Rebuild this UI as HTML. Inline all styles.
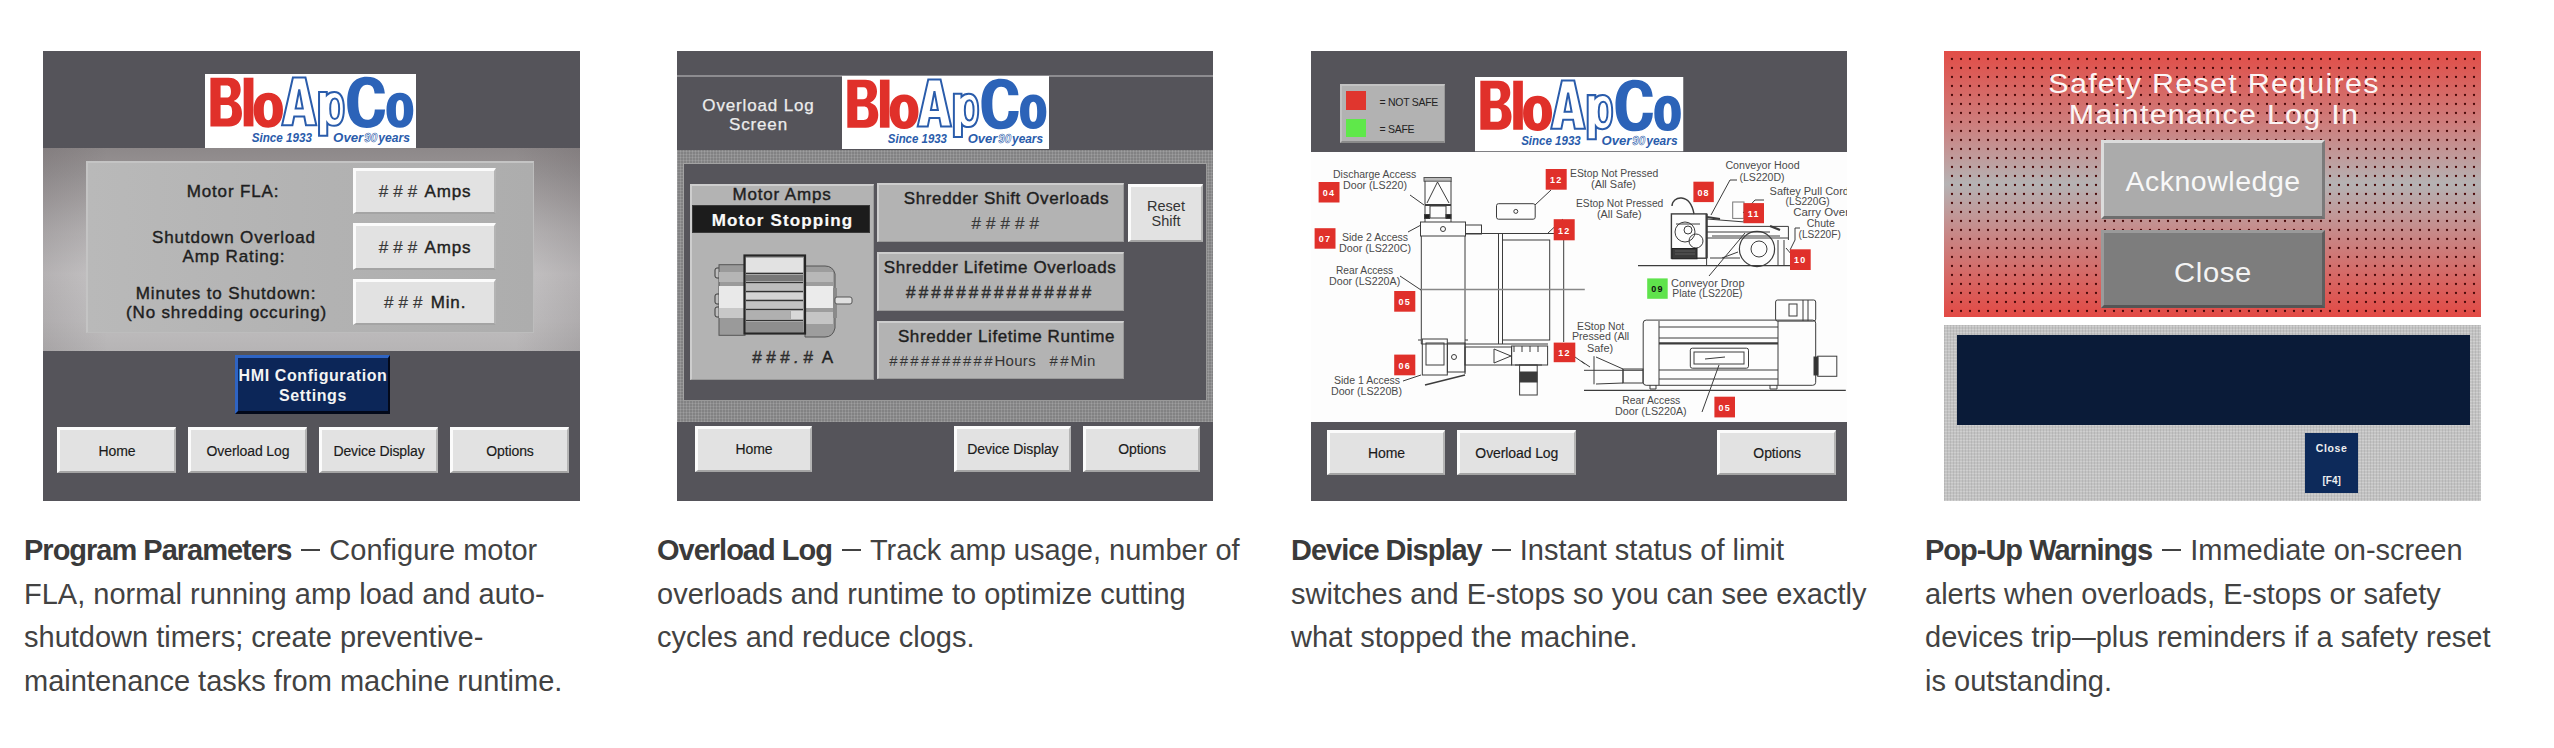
<!DOCTYPE html>
<html><head><meta charset="utf-8">
<style>
html,body{margin:0;padding:0;background:#fff;width:2554px;height:748px;overflow:hidden;position:relative}
*{box-sizing:border-box}
.abs{position:absolute}
.panel{position:absolute;top:51px;width:537px;height:450px;background:#55545a;overflow:hidden;font-family:"Liberation Sans",sans-serif}
.cap{position:absolute;top:529px;font-family:"Liberation Sans",sans-serif;font-size:29px;line-height:43.5px;color:#424242;white-space:nowrap}
.cap b{font-weight:bold;color:#3a3a3a;letter-spacing:-1px}
.dash{display:inline-block;width:20px;height:2px;background:#424242;vertical-align:middle;margin:0 9px 0 10px;width:19px;position:relative;top:-2px}
.logo{position:absolute;background:#fff;overflow:hidden}
.btn{position:absolute;background:#e2e2e2;border-top:3px solid #fbfbfb;border-left:3px solid #fbfbfb;border-right:2px solid #b4b4b4;border-bottom:2px solid #a4a4a4;white-space:nowrap;font-family:"Liberation Sans",sans-serif;color:#222;display:flex;align-items:center;justify-content:center;text-align:center}
.v{font-size:17px;line-height:19px;letter-spacing:0.85px;-webkit-text-stroke:0.4px #1e1e1e}
.hh{letter-spacing:5px;margin-right:-2px;font-style:italic;color:#383838;-webkit-text-stroke:0.2px #383838}
.nav{font-size:14px;letter-spacing:-0.1px;color:#1a1a1a;-webkit-text-stroke:0.15px #1a1a1a}
.hmi{background:#0c2658;border-top:3px solid #2e64c4;border-left:3px solid #2e64c4;border-right:2px solid #03091a;border-bottom:3px solid #03091a;color:#f4f4f4;font-family:"Liberation Sans",sans-serif;font-size:16px;line-height:20px;text-align:center;padding-top:8px;font-weight:bold;letter-spacing:0.6px;white-space:nowrap}
.dots{background-color:#828283;background-image:repeating-linear-gradient(90deg,rgba(255,255,255,0.13) 0 1px,transparent 1px 3px),repeating-linear-gradient(0deg,rgba(255,255,255,0.11) 0 1px,transparent 1px 3px)}
.gbox{background:#b3b3b3;border-top:2px solid #cdcdcd;border-left:2px solid #cdcdcd;border-right:1px solid #9a9a9a;border-bottom:1px solid #9a9a9a}
.hh2{letter-spacing:2.2px}
.lc{transform:translateX(-50%)}
.dots2{background-color:#c3c3c3;background-image:repeating-linear-gradient(90deg,rgba(0,0,0,0.07) 0 1px,transparent 1px 3px),repeating-linear-gradient(0deg,rgba(255,255,255,0.2) 0 1px,transparent 1px 3px)}
.lbl{position:absolute;font-family:"Liberation Sans",sans-serif;color:#1e1e1e;text-align:center;white-space:nowrap}
</style></head>
<body>
<svg width="0" height="0" style="position:absolute"><defs><symbol id="logo" viewBox="0 0 210 74"><rect width="210" height="74" fill="#fff"/>
<path fill="#e0302a" fill-rule="evenodd" d="M5.4,3.7H23.5C31.5,3.7 35.5,8.5 35.5,15.5C35.5,21 33,25 28.5,27C34,28.5 36.8,33 36.8,39.5C36.8,47.5 32,52.4 24,52.4H5.4ZM15.5,11.5V23.5H21.5C24.5,23.5 25.8,21.5 25.8,17.5C25.8,13.5 24.5,11.5 21.5,11.5ZM15.5,31V44.5H22C25.5,44.5 27,42.5 27,37.8C27,33 25.5,31 22,31Z"/>
<rect x="38.5" y="3.7" width="9.7" height="48.7" fill="#e0302a"/>
<path fill="#e0302a" fill-rule="evenodd" d="M63,18.7C72.5,18.7 77.6,25.5 77.6,36C77.6,46.5 72.5,53.7 63,53.7C53.5,53.7 48.4,46.5 48.4,36C48.4,25.5 53.5,18.7 63,18.7ZM63,26C60,26 58.5,29 58.5,36C58.5,43 60,46.2 63,46.2C66,46.2 67.5,43 67.5,36C67.5,29 66,26 63,26Z"/>
<path fill="#fff" stroke="#2a5cab" stroke-width="2" stroke-linejoin="miter" fill-rule="evenodd" d="M76.7,51.3L87.5,3.5H100L110.8,51.3H100.5L98.8,42.5H88.8L87,51.3ZM90.2,34.5H97.3L93.8,15.5Z"/>
<path fill="#fff" stroke="#2a5cab" stroke-width="2" fill-rule="evenodd" d="M113.5,18H121.2V21C123,19 125.5,17.9 128.6,17.9C135,17.9 138.2,24.5 138.2,34.8C138.2,45 135,51.8 128.6,51.8C125.5,51.8 123,50.8 121.7,49V61.8H113.5ZM129.2,24.5C126.2,24.5 124.6,28 124.6,34.8C124.6,41.6 126.2,45 129.2,45C132,45 133.5,41.6 133.5,34.8C133.5,28 132,24.5 129.2,24.5Z"/>
<path fill="#2c63b8" fill-rule="evenodd" d="M179,19.5H168.8C168.3,13.5 166,10.8 161.5,10.8C155.5,10.8 152.5,16.5 152.5,28.3C152.5,40 155.5,45.8 161.5,45.8C166.2,45.8 168.6,42.5 169,35.5H179.2C178.6,48 172,54 161,54C148.5,54 141.5,45 141.5,28.3C141.5,11.5 148.5,2.7 161,2.7C172,2.7 178.3,8.5 179,19.5Z"/>
<path fill="#2c63b8" fill-rule="evenodd" d="M194,18.7C203,18.7 207.3,25.5 207.3,36.2C207.3,47 203,53.7 194,53.7C185,53.7 180.6,47 180.6,36.2C180.6,25.5 185,18.7 194,18.7ZM194,26C191,26 190,29.5 190,36.2C190,43 191,46.5 194,46.5C197,46.5 198,43 198,36.2C198,29.5 197,26 194,26Z"/>
<g font-family="Liberation Sans" font-weight="bold" font-style="italic" fill="#2a5cab">
<text x="46.5" y="68" font-size="13" textLength="60" lengthAdjust="spacingAndGlyphs">Since 1933</text>
<text x="127.5" y="68" font-size="13" textLength="30" lengthAdjust="spacingAndGlyphs">Over</text>
<text x="158.5" y="68" font-size="13" fill="#fff" stroke="#2a5cab" stroke-width="0.6" textLength="13" lengthAdjust="spacingAndGlyphs">90</text>
<text x="172.5" y="68" font-size="13" textLength="31.5" lengthAdjust="spacingAndGlyphs">years</text>
</g>
</symbol></defs></svg>

<!-- PANEL 1 -->
<div class="panel" style="left:43px">
  <div class="abs" style="left:0;top:97px;width:537px;height:203px;background:linear-gradient(90deg,rgba(60,50,55,0.12) 0%,rgba(0,0,0,0) 12%,rgba(0,0,0,0) 88%,rgba(60,50,55,0.12) 100%),linear-gradient(180deg,#8d8889 0%,#979394 12%,#b4b1b2 40%,#c5c3c4 62%,#bfbdbe 85%,#b6b4b5 100%)"></div>
  <svg class="abs" style="left:162px;top:23px" width="211" height="74" viewBox="0 0 210 74" preserveAspectRatio="none"><use href="#logo"/></svg>
  <div class="abs" style="left:43px;top:110px;width:448px;height:172px;background:linear-gradient(90deg,#b9b9b9,#b2b2b2 55%,#adadad);border-top:2px solid #c4c4c4;border-left:2px solid #c4c4c4;border-right:1px solid #bdbdbd;border-bottom:1px solid #bdbdbd"></div>
  <div class="lbl v" style="left:90px;top:131px;width:200px">Motor FLA:</div>
  <div class="lbl v" style="left:91px;top:177px;width:200px">Shutdown Overload<br>Amp Rating:</div>
  <div class="lbl v" style="left:83px;top:233px;width:200px">Minutes to Shutdown:<br>(No shredding occuring)</div>
  <div class="btn v" style="left:310px;top:117px;width:143px;height:46px"><span><span class="hh">###</span> Amps</span></div>
  <div class="btn v" style="left:310px;top:172px;width:143px;height:47px"><span><span class="hh">###</span> Amps</span></div>
  <div class="btn v" style="left:310px;top:228px;width:143px;height:46px"><span><span class="hh">###</span> Min.</span></div>
  <div class="abs hmi" style="left:192px;top:304px;width:155px;height:59px">HMI Configuration<br>Settings</div>
  <div class="btn nav" style="left:14px;top:376px;width:119px;height:46px">Home</div>
  <div class="btn nav" style="left:145px;top:376px;width:119px;height:46px">Overload Log</div>
  <div class="btn nav" style="left:276px;top:376px;width:119px;height:46px">Device Display</div>
  <div class="btn nav" style="left:407px;top:376px;width:119px;height:46px">Options</div>
</div>

<!-- PANEL 2 -->
<div class="panel" style="left:677px;width:536px">
  <div class="abs" style="left:0;top:23.5px;width:537px;height:2px;background:#8d8c90"></div>
  <div class="abs dots" style="left:0;top:99px;width:536px;height:272px"></div>
  <div class="abs" style="left:5.5px;top:111.5px;width:524px;height:238.5px;background:#56555b;border:1px solid #a3a3a3;border-right-color:#9a9a9a;border-bottom-color:#9a9a9a"></div>
  <svg class="abs" style="left:165px;top:25px" width="207" height="73" viewBox="0 0 210 74" preserveAspectRatio="none"><use href="#logo"/></svg>
  <div class="lbl v lc" style="left:81.5px;top:45px;color:#ececec;-webkit-text-stroke:0.25px #ececec">Overload Log<br>Screen</div>
  <div class="abs gbox" style="left:12.7px;top:133px;width:184px;height:195.5px"></div>
  <div class="lbl v lc" style="left:105px;top:134px">Motor Amps</div>
  <div class="abs" style="left:15px;top:153.6px;width:178.3px;height:28px;background:#1c1c1c;border:1px solid #3a3a3a"></div>
  <div class="lbl v lc" style="left:105.5px;top:159.5px;color:#fafafa;font-weight:bold;letter-spacing:1.15px;-webkit-text-stroke:0.2px #fafafa">Motor Stopping</div>
  <svg class="abs" style="left:35.5px;top:200.5px" width="145" height="90" viewBox="0 0 145 90">
    <g stroke="#3a3a3a" stroke-width="1">
    <rect x="2" y="16" width="6" height="10" rx="2" fill="#bdbdbd"/>
    <rect x="2" y="42" width="6" height="10" rx="2" fill="#bdbdbd"/>
    <rect x="2" y="55" width="6" height="10" rx="2" fill="#bdbdbd"/>
    </g>
    <rect x="6" y="12.7" width="26" height="70.6" fill="#9a9a9a" stroke="#555" stroke-width="1"/>
    <rect x="6" y="20" width="26" height="10" fill="#b5b5b5"/>
    <rect x="6" y="34" width="26" height="22" fill="#e9e9e9"/>
    <rect x="6" y="56" width="26" height="10" fill="#c8c8c8"/>
    <path d="M92,14 H112 Q120,14 122,22 V76 Q120,85 112,85 H92 Z" fill="#9d9d9d" stroke="#555" stroke-width="1"/>
    <rect x="92" y="20" width="28" height="10" fill="#b8b8b8"/>
    <rect x="92" y="34" width="28" height="22" fill="#ebebeb"/>
    <rect x="92" y="60" width="28" height="12" fill="#c5c5c5"/>
    <rect x="120" y="36" width="4" height="30" fill="#8a8a8a"/>
    <rect x="122" y="45" width="17" height="7" rx="2" fill="#e0e0e0" stroke="#555" stroke-width="1"/>
    <rect x="31.5" y="3.5" width="60.5" height="78" fill="#a7a7a7" stroke="#262626" stroke-width="2.2"/>
    <rect x="33" y="6" width="57" height="14" fill="#e2e2e2"/>
    <rect x="33" y="23" width="57" height="6" fill="#777"/>
    <rect x="33" y="32" width="57" height="6" fill="#bdbdbd"/>
    <rect x="33" y="41" width="57" height="6" fill="#d5d5d5"/>
    <rect x="33" y="50" width="57" height="6" fill="#c2c2c2"/>
    <rect x="33" y="59" width="44" height="8" fill="#b0b0b0"/>
    <rect x="78" y="59" width="12" height="8" fill="#d8d8d8"/>
    <rect x="33" y="70" width="57" height="10" fill="#8e8e8e"/>
    <g stroke="#333" stroke-width="1.2"><line x1="33" y1="21.5" x2="90" y2="21.5"/><line x1="33" y1="30.5" x2="90" y2="30.5"/><line x1="33" y1="39.5" x2="90" y2="39.5"/><line x1="33" y1="48.5" x2="90" y2="48.5"/><line x1="33" y1="57.5" x2="90" y2="57.5"/><line x1="33" y1="68.5" x2="90" y2="68.5"/></g>
  </svg>
  <div class="lbl v lc" style="left:116px;top:297px;color:#222"><span style="letter-spacing:4.5px;font-style:italic;color:#3a3a3a">###.#</span> A</div>
  <div class="abs gbox" style="left:199.5px;top:132.2px;width:247px;height:58.8px"></div>
  <div class="lbl v lc" style="left:329.5px;top:137.5px;letter-spacing:0.6px">Shredder Shift Overloads</div>
  <div class="lbl v lc" style="left:329.5px;top:163px;color:#333"><span class="hh">#####</span></div>
  <div class="btn" style="left:451px;top:133px;width:75px;height:58px;font-size:14.5px;line-height:15px;color:#333;white-space:normal">Reset<br>Shift</div>
  <div class="abs gbox" style="left:199.5px;top:201.4px;width:247px;height:58.2px"></div>
  <div class="lbl v lc" style="left:323px;top:206.5px;letter-spacing:0.6px">Shredder Lifetime Overloads</div>
  <div class="lbl v lc" style="left:323px;top:232px;color:#333"><span style="letter-spacing:3.1px;font-style:italic;color:#3a3a3a">###############</span></div>
  <div class="abs gbox" style="left:199.5px;top:270px;width:247px;height:58.4px"></div>
  <div class="lbl v lc" style="left:329.5px;top:275.5px;letter-spacing:0.6px">Shredder Lifetime Runtime</div>
  <div class="lbl" style="left:212px;top:300px;font-size:15px;line-height:19px;color:#333;letter-spacing:0.3px;text-align:left"><span class="hh2" style="font-style:italic">##########</span>Hours&nbsp;&nbsp;&nbsp;<span class="hh2" style="font-style:italic">##</span>Min</div>
  <div class="btn nav" style="left:17.8px;top:374.5px;width:117.3px;height:46.7px">Home</div>
  <div class="btn nav" style="left:276.8px;top:374.5px;width:117.2px;height:46.7px">Device Display</div>
  <div class="btn nav" style="left:406px;top:374.5px;width:117.2px;height:46.7px">Options</div>
</div>

<!-- PANEL 3 -->
<div class="panel" style="left:1311px;width:536px">
  <svg class="abs" style="left:0;top:0" width="537" height="450" viewBox="1311 51 537 450"><rect x="1311" y="152" width="537" height="270" fill="#fdfdfd"/><g fill="none" stroke="#3c3c3c" stroke-width="1"><rect x="1424" y="177.5" width="27.2" height="3.7" fill="#bbb" stroke="#555"/><path d="M1425,181 V222 M1451,181 V222 M1437.5,182 L1427,203 M1437.5,182 L1449,203"/><path d="M1425,205 H1451" stroke-width="2"/><rect x="1430" y="206" width="16" height="12"/><rect x="1424.5" y="214.5" width="5" height="4" fill="#222"/><rect x="1446" y="214.5" width="5" height="4" fill="#222"/><rect x="1420.5" y="222" width="45" height="14"/><circle cx="1443" cy="229" r="2.5"/><rect x="1465.5" y="225" width="16" height="9"/><path d="M1421.3,236 V344 M1465,236 V374 M1465,233.5 H1563.7 M1498.5,233.5 V344 M1502.5,233.5 V344"/><rect x="1502.5" y="240" width="47.2" height="100"/><path d="M1563.7,233.5 V342"/><path d="M1420,289.6 H1584.8" stroke="#888" stroke-width="1.5"/><path d="M1421.3,344 H1548"/><rect x="1422.3" y="339" width="25" height="36"/><rect x="1426" y="343" width="18" height="22"/><rect x="1447.4" y="343" width="17.6" height="29"/><circle cx="1454" cy="357" r="2.5"/><path d="M1418,340 H1421 M1465,340 H1468"/><rect x="1465" y="347" width="46.6" height="18"/><path d="M1494,349 L1511,356 L1494,363 Z"/><rect x="1511.6" y="346" width="36" height="19"/><path d="M1514,346 V352 M1522,346 V352 M1530,346 V352 M1538,346 V352"/><rect x="1519.6" y="365" width="17.6" height="30"/><rect x="1520" y="372" width="17" height="10" fill="#3a3a3a"/><path d="M1515,365 H1542"/><path d="M1425,385 L1465,375" stroke-width="1.5"/><path d="M1410,195 L1424,205 M1408,232 L1421,225 M1400,276 L1421,290 M1551,190 L1535,205 M1563,219 L1548,233 M1403,381 L1421,375 M1575,357 L1585,364"/><rect x="1496.5" y="203.7" width="38.7" height="15.5" rx="2"/><circle cx="1515.8" cy="211.4" r="2"/><path d="M1638,265.6 H1790" stroke-width="1.3"/><rect x="1671.4" y="213.9" width="35.2" height="44.3" stroke-width="1.4"/><path d="M1706.6,213.9 V258" stroke-width="2.2"/><circle cx="1685" cy="232" r="10"/><circle cx="1696" cy="241" r="7"/><circle cx="1688" cy="230" r="4"/><path d="M1676,224 H1700"/><rect x="1672" y="248.5" width="25" height="10.3" fill="#3a3a3a" stroke="#222"/><path d="M1675,251 H1695 M1675,254 H1695" stroke="#777" stroke-width="0.6"/><path d="M1672,206 C1672,196 1690,192 1694,214" stroke-width="1.4"/><path d="M1706.6,226.4 H1788.4 M1706.6,232 H1770 M1706.6,238 H1788.4 M1788.4,226.4 V240 M1707,219 L1745,222 M1712,236 L1780,236" /><path d="M1707,217 L1720,219" stroke-width="2"/><path d="M1744,221 L1748,216" stroke-width="2"/><path d="M1770,226 L1780,230" stroke-width="2.2"/><rect x="1732.7" y="202" width="11.3" height="16.4" stroke="#777"/><circle cx="1757" cy="249" r="17.6" stroke-width="1.2"/><circle cx="1759" cy="249" r="8"/><path d="M1706.6,258 V265.6 M1778,240 V265.6 M1784,240 V265.6 M1722,258 L1738,252 M1710,258 H1740 M1786,248 L1792,255" /><path d="M1711,215 L1730,180 H1737 M1743,213 L1755,200 H1764 M1790,250 L1795,240 V228 H1800 M1709,276 L1745,233"/><path d="M1584,390.3 H1845.8" stroke-width="1.3"/><path d="M1584,370.3 H1643"/><path d="M1594,356.2 V384.3 M1596,357 L1623,369 V383 L1596,384"/><rect x="1623" y="369" width="20" height="14"/><rect x="1643.2" y="320.1" width="172.5" height="65.2" rx="3"/><path d="M1659,321 V385 M1778,321 V385 M1659,327 H1778 M1659,338 H1778 M1659,343 H1778 M1659,370 H1778 M1659,379 H1778"/><path d="M1659,343.5 H1778" stroke-width="1.8"/><rect x="1690.3" y="348.2" width="58.2" height="20" rx="2"/><rect x="1694" y="352" width="50" height="12"/><path d="M1705,359 L1725,357"/><rect x="1775.6" y="300" width="40.1" height="21.1" rx="2"/><rect x="1789" y="304" width="8" height="12"/><path d="M1803,300 V321 M1808,300 V321"/><rect x="1817.7" y="356.2" width="19.1" height="20.1"/><rect x="1814" y="357" width="4" height="18" fill="#333"/><path d="M1650,385 V389 H1656 V385 M1770,385 V389 H1777 V385"/><path d="M1702,412 L1719,365 M1581,361 L1590,367"/></g><g font-family="Liberation Sans" fill="#4a4a4a"><text x="1333" y="178" textLength="83.3" lengthAdjust="spacingAndGlyphs" font-size="10">Discharge Access</text><text x="1343" y="189" textLength="64.0" lengthAdjust="spacingAndGlyphs" font-size="10">Door (LS220)</text><text x="1342" y="241.3" textLength="66.0" lengthAdjust="spacingAndGlyphs" font-size="10">Side 2 Access</text><text x="1339" y="252.3" textLength="72.0" lengthAdjust="spacingAndGlyphs" font-size="10">Door (LS220C)</text><text x="1336" y="274.3" textLength="57.2" lengthAdjust="spacingAndGlyphs" font-size="10">Rear Access</text><text x="1329" y="285.4" textLength="71.2" lengthAdjust="spacingAndGlyphs" font-size="10">Door (LS220A)</text><text x="1334" y="384.3" textLength="66.0" lengthAdjust="spacingAndGlyphs" font-size="10">Side 1 Access</text><text x="1331" y="395.3" textLength="71.0" lengthAdjust="spacingAndGlyphs" font-size="10">Door (LS220B)</text><text x="1570" y="177" textLength="88.3" lengthAdjust="spacingAndGlyphs" font-size="10">EStop Not Pressed</text><text x="1591" y="188" textLength="45.0" lengthAdjust="spacingAndGlyphs" font-size="10">(All Safe)</text><text x="1576" y="207.2" textLength="87.3" lengthAdjust="spacingAndGlyphs" font-size="10">EStop Not Pressed</text><text x="1597" y="218.2" textLength="44.6" lengthAdjust="spacingAndGlyphs" font-size="10">(All Safe)</text><text x="1725.4" y="169" textLength="74.2" lengthAdjust="spacingAndGlyphs" font-size="10">Conveyor Hood</text><text x="1739.5" y="180.5" textLength="45.1" lengthAdjust="spacingAndGlyphs" font-size="10">(LS220D)</text><text x="1769.6" y="194.5" textLength="79.4" lengthAdjust="spacingAndGlyphs" font-size="10">Saftey Pull Cord</text><text x="1785.6" y="205.2" textLength="44.1" lengthAdjust="spacingAndGlyphs" font-size="10">(LS220G)</text><text x="1793.2" y="216.2" textLength="55.8" lengthAdjust="spacingAndGlyphs" font-size="10">Carry Over</text><text x="1806.7" y="227.2" textLength="28.1" lengthAdjust="spacingAndGlyphs" font-size="10">Chute</text><text x="1798.6" y="238.2" textLength="42.2" lengthAdjust="spacingAndGlyphs" font-size="10">(LS220F)</text><text x="1671" y="287.4" textLength="73.5" lengthAdjust="spacingAndGlyphs" font-size="10">Conveyor Drop</text><text x="1672.3" y="297.4" textLength="70.2" lengthAdjust="spacingAndGlyphs" font-size="10">Plate (LS220E)</text><text x="1577" y="330.1" textLength="47.2" lengthAdjust="spacingAndGlyphs" font-size="10">EStop Not</text><text x="1572" y="340.2" textLength="57.2" lengthAdjust="spacingAndGlyphs" font-size="10">Pressed (All</text><text x="1587" y="352.2" textLength="26.1" lengthAdjust="spacingAndGlyphs" font-size="10">Safe)</text><text x="1622.2" y="404.3" textLength="58.1" lengthAdjust="spacingAndGlyphs" font-size="10">Rear Access</text><text x="1615.1" y="415.4" textLength="71.6" lengthAdjust="spacingAndGlyphs" font-size="10">Door (LS220A)</text></g><g font-family="Liberation Sans"><rect x="1318.6" y="182" width="20.9" height="20.5" fill="#e0302a"/><text x="1329.0" y="195.9" font-size="9" font-weight="bold" fill="#fff" text-anchor="middle" letter-spacing="1.2">04</text><rect x="1314.6" y="228.2" width="20.9" height="20.5" fill="#e0302a"/><text x="1325.0" y="242.1" font-size="9" font-weight="bold" fill="#fff" text-anchor="middle" letter-spacing="1.2">07</text><rect x="1394.2" y="291" width="21.1" height="20.7" fill="#e0302a"/><text x="1404.8" y="305.1" font-size="9" font-weight="bold" fill="#fff" text-anchor="middle" letter-spacing="1.2">05</text><rect x="1394.2" y="354.6" width="21.1" height="20.7" fill="#e0302a"/><text x="1404.8" y="368.7" font-size="9" font-weight="bold" fill="#fff" text-anchor="middle" letter-spacing="1.2">06</text><rect x="1545.7" y="169" width="21.0" height="20.7" fill="#e0302a"/><text x="1556.2" y="183.1" font-size="9" font-weight="bold" fill="#fff" text-anchor="middle" letter-spacing="1.2">12</text><rect x="1553.7" y="219.2" width="21.0" height="21.1" fill="#e0302a"/><text x="1564.2" y="233.5" font-size="9" font-weight="bold" fill="#fff" text-anchor="middle" letter-spacing="1.2">12</text><rect x="1553.7" y="342.6" width="21.6" height="19.6" fill="#e0302a"/><text x="1564.5" y="355.9" font-size="9" font-weight="bold" fill="#fff" text-anchor="middle" letter-spacing="1.2">12</text><rect x="1693.4" y="181.7" width="20.4" height="20.4" fill="#e0302a"/><text x="1703.6" y="195.6" font-size="9" font-weight="bold" fill="#fff" text-anchor="middle" letter-spacing="1.2">08</text><rect x="1743.5" y="203.1" width="20.5" height="20.1" fill="#e0302a"/><text x="1753.8" y="216.8" font-size="9" font-weight="bold" fill="#fff" text-anchor="middle" letter-spacing="1.2">11</text><rect x="1790" y="249.3" width="20.7" height="20.7" fill="#e0302a"/><text x="1800.3" y="263.4" font-size="9" font-weight="bold" fill="#fff" text-anchor="middle" letter-spacing="1.2">10</text><rect x="1647.2" y="278.4" width="20.5" height="20.4" fill="#5fe34c"/><text x="1657.5" y="292.3" font-size="9" font-weight="bold" fill="#111" text-anchor="middle" letter-spacing="1.2">09</text><rect x="1714.4" y="396.7" width="20.6" height="20.7" fill="#e0302a"/><text x="1724.7" y="410.8" font-size="9" font-weight="bold" fill="#fff" text-anchor="middle" letter-spacing="1.2">05</text></g></svg>
  <div class="abs" style="left:28.5px;top:32.5px;width:105px;height:59.7px;background:#b2b2b2;border-top:2px solid #c2c2c2;border-left:2px solid #c2c2c2;border-bottom:2px solid #8a8a8a;border-right:1px solid #9a9a9a"></div>
  <div class="abs" style="left:35px;top:40.2px;width:20px;height:18.8px;background:#e0362e"></div>
  <div class="abs" style="left:35px;top:67.8px;width:20px;height:18.4px;background:#5fe84a"></div>
  <div class="lbl" style="left:68.6px;top:45px;font-size:10.5px;line-height:12px;color:#222;letter-spacing:-0.3px">= NOT SAFE</div>
  <div class="lbl" style="left:68.6px;top:72px;font-size:10.5px;line-height:12px;color:#222;letter-spacing:-0.3px">= SAFE</div>
  <svg class="abs" style="left:164px;top:26px" width="208.5" height="74.5" viewBox="0 0 210 74" preserveAspectRatio="none"><use href="#logo"/></svg>
  <div class="btn nav" style="left:15.7px;top:379.4px;width:118.6px;height:45.1px">Home</div>
  <div class="btn nav" style="left:146px;top:379.4px;width:118.6px;height:45.1px">Overload Log</div>
  <div class="btn nav" style="left:406px;top:379.4px;width:119.3px;height:45.1px">Options</div>
</div>

<!-- PANEL 4 -->
<div class="panel" style="left:1944px;background:#fff">
  <div class="abs" style="left:0;top:0;width:537px;height:266px;background:linear-gradient(180deg,#e24d47 0%,#cd7f7e 28%,#b5b3b4 50%,#c98584 70%,#e34a45 100%)"></div>
  <svg class="abs" style="left:4px;top:4px" width="531" height="261"><defs><pattern id="dp" x="0" y="0" width="9" height="9" patternUnits="userSpaceOnUse"><circle cx="4" cy="4" r="1.15" fill="#4a0808"/></pattern></defs><rect width="531" height="261" fill="url(#dp)"/></svg>
  <div class="abs dots2" style="left:0;top:273.5px;width:537px;height:176.5px"></div>
  <div class="abs" style="left:12.5px;top:284.3px;width:513px;height:89.9px;background:#0a1b38"></div>
  <div class="abs" style="left:361px;top:381.5px;width:53.3px;height:60.7px;background:#0d2a5a"></div>
  <div class="lbl" style="left:361px;top:391px;width:53.3px;font-size:10.5px;line-height:12px;color:#f0f0f0;font-weight:bold;letter-spacing:0.6px">Close</div>
  <div class="lbl" style="left:361px;top:423.5px;width:53.3px;font-size:10px;line-height:12px;color:#f0f0f0;font-weight:bold">[F4]</div>
  <div class="lbl" style="left:270px;top:17.5px;font-size:27px;line-height:31.2px;color:#fbf5f5;letter-spacing:1.1px;transform:translateX(-50%) scaleX(1.13)">Safety Reset Requires<br>Maintenance Log In</div>
  <div class="abs" style="left:156.6px;top:89px;width:224.9px;height:79.1px;background:#ababab;border-top:3px solid #dcdcdc;border-left:3px solid #dcdcdc;border-right:3px solid #7a7a7a;border-bottom:3px solid #6e6e6e"></div>
  <div class="lbl lc" style="left:269px;top:116px;font-size:27px;line-height:31px;color:#f8f8f8;letter-spacing:0.5px;transform:translateX(-50%) scaleX(1.055)">Acknowledge</div>
  <div class="abs" style="left:156.6px;top:179px;width:224.9px;height:78.3px;background:#7d7d7d;border-top:3px solid #9a9a9a;border-left:3px solid #9a9a9a;border-right:3px solid #5e5e5e;border-bottom:3px solid #555"></div>
  <div class="lbl lc" style="left:269px;top:206.5px;font-size:27px;line-height:31px;color:#f4f4f4;letter-spacing:0.6px;transform:translateX(-50%) scaleX(1.08)">Close</div>
</div>

<!-- CAPTIONS -->
<div class="cap" style="left:24px"><b>Program Parameters</b><span class="dash"></span>Configure motor<br>FLA, normal running amp load and auto-<br>shutdown timers; create preventive-<br>maintenance tasks from machine runtime.</div>
<div class="cap" style="left:657px"><b>Overload Log</b><span class="dash"></span>Track amp usage, number of<br>overloads and runtime to optimize cutting<br>cycles and reduce clogs.</div>
<div class="cap" style="left:1291px"><b>Device Display</b><span class="dash"></span>Instant status of limit<br>switches and E-stops so you can see exactly<br>what stopped the machine.</div>
<div class="cap" style="left:1925px"><b>Pop-Up Warnings</b><span class="dash"></span>Immediate on-screen<br>alerts when overloads, E-stops or safety<br>devices trip<span style="display:inline-block;width:24px;transform:scaleX(0.82);transform-origin:0 50%">—</span>plus reminders if a safety reset<br>is outstanding.</div>

</body></html>
